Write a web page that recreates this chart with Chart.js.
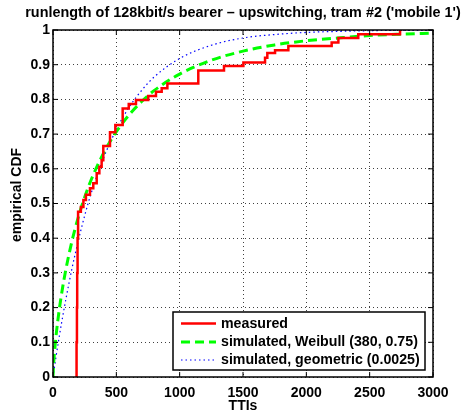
<!DOCTYPE html>
<html>
<head>
<meta charset="utf-8">
<script src="https://cdn.jsdelivr.net/npm/chart.js@4/dist/chart.umd.min.js"></script>
<style>
  html, body { margin: 0; padding: 0; background: #fff; }
  canvas { display: block; }
</style>
</head>
<body>
<canvas id="cdfChart" width="465" height="418"></canvas>
<script>
const titleText = "runlength of 128kbit/s bearer \u2013 upswitching, tram #2 ('mobile 1')";
const xLabel = "TTIs";
const yLabel = "empirical CDF";
const xTicks = [0, 500, 1000, 1500, 2000, 2500, 3000];
const yTicks = [0, 0.1, 0.2, 0.3, 0.4, 0.5, 0.6, 0.7, 0.8, 0.9, 1];
const seriesNames = ["measured", "simulated, Weibull (380, 0.75)", "simulated, geometric (0.0025)"];

// measured: jump positions (TTIs) and CDF value after each jump
const measuredX = [182, 186, 189, 191, 194, 198, 220, 240, 260, 292, 318, 345, 366, 384, 397, 450, 492, 550, 598, 655, 752, 813, 858, 903, 1147, 1350, 1503, 1674, 1692, 1753, 1858, 2200, 2253, 2410, 2740];
const measuredY = [0, 0.1, 0.2, 0.3, 0.4, 0.476, 0.49, 0.51, 0.525, 0.544, 0.558, 0.587, 0.606, 0.625, 0.666, 0.705, 0.726, 0.774, 0.787, 0.798, 0.81, 0.822, 0.832, 0.846, 0.883, 0.896, 0.906, 0.92, 0.934, 0.942, 0.954, 0.964, 0.977, 0.988, 1.0];

// simulated curves read off at these TTIs
const simX = [0, 5, 10, 25, 50, 75, 100, 150, 200, 250, 300, 400, 500, 600, 700, 800, 1000, 1250, 1500, 1750, 2000, 2250, 2500, 2750, 3000];
const weibullY = [0, 0.038, 0.063, 0.122, 0.196, 0.256, 0.307, 0.392, 0.461, 0.518, 0.567, 0.646, 0.707, 0.755, 0.794, 0.826, 0.873, 0.913, 0.939, 0.957, 0.969, 0.977, 0.984, 0.988, 0.991];
const geometricY = [0, 0.012, 0.025, 0.061, 0.118, 0.171, 0.221, 0.313, 0.393, 0.465, 0.528, 0.632, 0.713, 0.777, 0.826, 0.865, 0.918, 0.956, 0.977, 0.987, 0.993, 0.996, 0.998, 0.999, 0.999];

const colors = ["#ff0000", "#00ff00", "#0000ff"];
const fontFamily = "'Liberation Sans', Arial, sans-serif";

function toPoints(xs, ys) {
  return xs.map((x, i) => ({ x: x, y: ys[i] }));
}

const matlabDecor = {
  id: "matlabDecor",
  beforeDraw(chart) {
    const ctx = chart.ctx;
    ctx.save();
    ctx.fillStyle = "#fff";
    ctx.fillRect(0, 0, chart.width, chart.height);
    ctx.restore();
  },
  afterDraw(chart) {
    const ctx = chart.ctx;
    const area = chart.chartArea;
    const xs = chart.scales.x;
    const ys = chart.scales.y;
    ctx.save();

    // frame and inward ticks
    ctx.strokeStyle = "#000";
    ctx.lineWidth = 1.5;
    ctx.strokeRect(area.left, area.top, area.right - area.left, area.bottom - area.top);
    ctx.lineWidth = 1;
    ctx.beginPath();
    xTicks.forEach((t) => {
      const px = xs.getPixelForValue(t);
      ctx.moveTo(px, area.bottom); ctx.lineTo(px, area.bottom - 5);
      ctx.moveTo(px, area.top); ctx.lineTo(px, area.top + 5);
    });
    yTicks.forEach((t) => {
      const py = ys.getPixelForValue(t);
      ctx.moveTo(area.left, py); ctx.lineTo(area.left + 5, py);
      ctx.moveTo(area.right, py); ctx.lineTo(area.right - 5, py);
    });
    ctx.stroke();

    // titles
    ctx.fillStyle = "#000";
    ctx.font = "bold 14.4px " + fontFamily;
    ctx.textAlign = "center";
    ctx.textBaseline = "middle";
    ctx.fillText(titleText, (area.left + area.right) / 2, 13);
    ctx.font = "bold 14px " + fontFamily;
    ctx.fillText(xLabel, (area.left + area.right) / 2, 406);
    ctx.save();
    ctx.translate(17, 195);
    ctx.rotate(-Math.PI / 2);
    ctx.fillText(yLabel, 0, 0);
    ctx.restore();

    // legend box
    const box = { x: 173, y: 312, w: 252, h: 58 };
    ctx.fillStyle = "#fff";
    ctx.fillRect(box.x, box.y, box.w, box.h);
    ctx.lineWidth = 1.5;
    ctx.strokeStyle = "#000";
    ctx.strokeRect(box.x, box.y, box.w, box.h);
    const rows = [323.5, 342, 360];
    const dashes = [[], [9, 5], [1.5, 3]];
    const widths = [2.5, 3, 1.2];
    ctx.textAlign = "left";
    ctx.font = "bold 14.2px " + fontFamily;
    seriesNames.forEach((name, i) => {
      ctx.beginPath();
      ctx.setLineDash(dashes[i]);
      ctx.lineWidth = widths[i];
      ctx.strokeStyle = colors[i];
      ctx.moveTo(181, rows[i]);
      ctx.lineTo(216, rows[i]);
      ctx.stroke();
      ctx.setLineDash([]);
      ctx.fillStyle = "#000";
      ctx.fillText(name, 221, rows[i] + 0.5);
    });
    ctx.restore();
  },
};

function buildChart() {
  const ctx = document.getElementById("cdfChart").getContext("2d");
  new Chart(ctx, {
    type: "line",
    data: {
      datasets: [
        {
          label: seriesNames[2],
          data: toPoints(simX, geometricY),
          borderColor: colors[2],
          borderWidth: 1.2,
          borderDash: [1.5, 3],
          cubicInterpolationMode: "monotone",
          pointRadius: 0,
          order: 3,
        },
        {
          label: seriesNames[1],
          data: toPoints(simX, weibullY),
          borderColor: colors[1],
          borderWidth: 3,
          borderDash: [9, 5],
          cubicInterpolationMode: "monotone",
          pointRadius: 0,
          order: 2,
        },
        {
          label: seriesNames[0],
          data: toPoints(measuredX, measuredY),
          borderColor: colors[0],
          borderWidth: 2.5,
          stepped: "before",
          pointRadius: 0,
          order: 1,
        },
      ],
    },
    options: {
      responsive: false,
      animation: false,
      layout: { padding: { top: 30, right: 32, left: 0, bottom: 0 } },
      plugins: { legend: { display: false }, title: { display: false }, tooltip: { enabled: false } },
      scales: {
        x: {
          type: "linear",
          min: 0,
          max: 3000,
          afterFit: (s) => { s.height = 41; },
          afterBuildTicks: (s) => { s.ticks = xTicks.map((v) => ({ value: v })); },
          ticks: {
            padding: 8,
            color: "#000",
            font: { family: fontFamily, size: 14, weight: "bold" },
            maxRotation: 0,
            callback: (v) => String(v),
          },
          grid: { color: "rgba(0,0,0,0.75)", lineWidth: 1, drawTicks: false },
          border: { display: false, dash: [1, 3] },
        },
        y: {
          type: "linear",
          min: 0,
          max: 1,
          afterFit: (s) => { s.width = 53; },
          afterBuildTicks: (s) => { s.ticks = yTicks.map((v) => ({ value: v })); },
          ticks: {
            padding: 3,
            color: "#000",
            font: { family: fontFamily, size: 14, weight: "bold" },
            callback: (v) => String(Math.round(v * 10) / 10),
          },
          grid: { color: "rgba(0,0,0,0.75)", lineWidth: 1, drawTicks: false },
          border: { display: false, dash: [1, 3] },
        },
      },
    },
    plugins: [matlabDecor],
  });
}

buildChart();
</script>
</body>
</html>
